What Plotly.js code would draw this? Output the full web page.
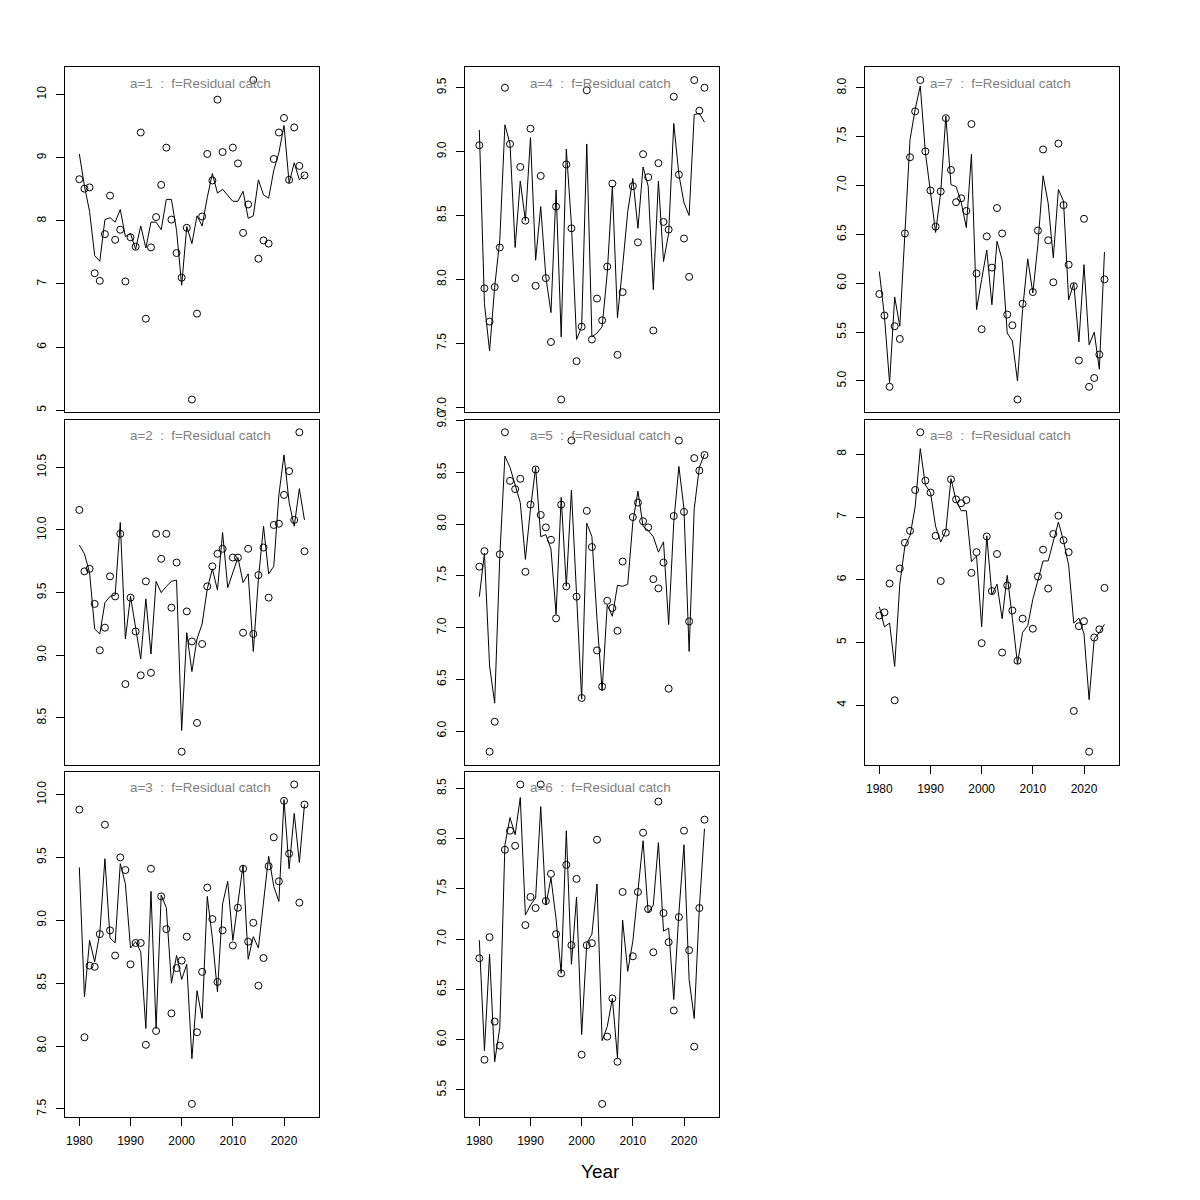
<!DOCTYPE html>
<html>
<head>
<meta charset="utf-8">
<script src="https://cdn.plot.ly/plotly-3.0.1.min.js"></script>
<style>html,body{margin:0;padding:0;background:#fff;}#chart{width:1200px;height:1200px;}</style>
</head>
<body>
<div id="chart"></div>
<script>
// ---------------- data ----------------
const years = [1980,1981,1982,1983,1984,1985,1986,1987,1988,1989,
               1990,1991,1992,1993,1994,1995,1996,1997,1998,1999,
               2000,2001,2002,2003,2004,2005,2006,2007,2008,2009,
               2010,2011,2012,2013,2014,2015,2016,2017,2018,2019,
               2020,2021,2022,2023,2024];
const xTicks = [1980,1990,2000,2010,2020];

const panelLabels = ["a=1  :  f=Residual catch","a=2  :  f=Residual catch","a=3  :  f=Residual catch",
                     "a=4  :  f=Residual catch","a=5  :  f=Residual catch","a=6  :  f=Residual catch",
                     "a=7  :  f=Residual catch","a=8  :  f=Residual catch"];

// observed (circles)
const obs1 = [8.66,8.51,8.53,7.17,7.05,7.79,8.40,7.70,7.86,7.04, 7.74,7.59,9.40,6.45,7.58,8.06,8.57,9.16,8.02,7.49,
              7.10,7.89,5.17,6.53,8.07,9.06,8.64,9.92,9.09,null, 9.16,8.91,7.81,8.26,10.23,7.40,7.69,7.64,8.98,9.40,
              9.63,8.65,9.48,8.87,8.72];
const obs2 = [10.16,9.67,9.69,9.41,9.04,9.22,9.63,9.47,9.97,8.77, 9.46,9.19,8.84,9.59,8.86,9.97,9.77,9.97,9.38,9.74,
              8.23,9.35,9.11,8.46,9.09,9.55,9.71,9.81,9.85,null, 9.78,9.78,9.18,9.85,9.17,9.64,9.86,9.46,10.04,10.05,
              10.28,10.47,10.08,10.78,9.83];
const obs3 = [9.88,8.07,8.64,8.63,8.89,9.76,8.92,8.72,9.50,9.40, 8.65,8.82,8.82,8.01,9.41,8.12,9.19,8.93,8.26,8.62,
              8.68,8.87,7.54,8.11,8.59,9.26,9.01,8.51,8.92,null, 8.80,9.10,9.41,8.83,8.98,8.48,8.70,9.43,9.66,9.31,
              9.95,9.53,10.08,9.14,9.92];
const obs4 = [9.05,7.93,7.67,7.94,8.25,9.50,9.06,8.01,8.88,8.46, 9.18,7.95,8.81,8.01,7.51,8.57,7.06,8.90,8.40,7.36,
              7.63,9.48,7.53,7.85,7.68,8.10,8.75,7.41,7.90,null, 8.73,8.29,8.98,8.80,7.60,8.91,8.45,8.39,9.43,8.82,
              8.32,8.02,9.56,9.32,9.50];
const obs5 = [7.59,7.74,5.80,6.09,7.71,8.89,8.42,8.34,8.44,7.54, 8.19,8.53,8.09,7.97,7.85,7.09,8.19,7.40,8.81,7.30,
              6.32,8.13,7.78,6.78,6.43,7.26,7.19,6.97,7.64,null, 8.07,8.21,8.03,7.97,7.47,7.38,7.63,6.41,8.08,8.81,
              8.12,7.06,8.64,8.52,8.67];
const obs6 = [6.81,5.80,7.02,6.18,5.94,7.89,8.08,7.93,8.54,7.14, 7.42,7.31,8.54,7.38,7.65,7.05,6.66,7.74,6.94,7.60,
              5.85,6.94,6.96,7.99,5.36,6.03,6.41,5.78,7.47,null, 6.83,7.47,8.06,7.30,6.87,8.37,7.26,6.97,6.29,7.22,
              8.08,6.89,5.93,7.31,8.19];
const obs7 = [5.89,5.67,4.94,5.56,5.43,6.51,7.29,7.76,8.08,7.35, 6.95,6.58,6.94,7.69,7.16,6.83,6.87,6.74,7.63,6.10,
              5.53,6.48,6.16,6.77,6.51,5.68,5.57,4.81,5.79,null, 5.91,6.54,7.37,6.44,6.01,7.43,6.80,6.19,5.97,5.21,
              6.66,4.94,5.03,5.27,6.04];
const obs8 = [5.43,5.48,5.94,4.08,6.18,6.59,6.78,7.43,8.35,7.58, 7.39,6.70,5.98,6.75,7.60,7.28,7.22,7.27,6.11,6.44,
              4.99,6.69,5.82,6.41,4.84,5.91,5.51,4.71,5.38,null, 5.22,6.05,6.48,5.86,6.73,7.02,6.63,6.44,3.91,5.26,
              5.34,3.26,5.08,5.21,5.87];

// fitted (lines)
const fit1 = [9.06,8.55,8.15,7.45,7.36,8.02,8.05,7.98,8.18,7.75, 7.80,7.55,7.92,7.57,7.98,7.98,7.86,8.34,8.34,7.85,
              6.98,7.91,7.64,8.08,7.92,8.37,8.75,8.44,8.50,8.41, 8.31,8.31,8.47,8.04,8.08,8.65,8.41,8.36,8.80,9.08,
              9.51,8.60,8.92,8.65,8.73];
const fit2 = [9.88,9.81,9.66,9.21,9.17,9.42,9.47,9.48,10.06,9.13, 9.47,9.21,8.97,9.45,9.01,9.59,9.50,9.55,9.59,9.60,
              8.40,9.18,8.87,9.13,9.25,9.53,9.69,9.52,9.98,9.54, 9.66,9.78,9.58,9.65,9.03,9.61,10.03,9.65,9.71,10.28,
              10.60,10.22,10.03,10.33,10.08];
const fit3 = [9.42,8.39,8.84,8.67,8.90,9.49,8.86,8.82,9.45,9.29, 8.78,8.83,8.75,8.14,9.23,8.14,9.20,9.10,8.50,8.72,
              8.53,8.65,7.90,8.44,8.22,9.19,8.86,8.43,9.13,9.31, 8.84,9.16,9.44,8.69,8.87,8.78,9.14,9.51,9.27,9.15,
              9.96,9.41,9.85,9.46,9.92];
const fit4 = [9.17,7.81,7.44,7.94,8.31,9.21,9.06,8.25,8.77,8.46, 9.11,8.15,8.57,8.02,7.74,8.70,7.55,9.02,8.43,7.53,
              7.63,9.06,7.55,7.58,7.63,8.05,8.73,7.70,8.10,8.53, 8.79,8.40,8.88,8.73,7.92,8.77,8.14,8.36,9.22,8.82,
              8.60,8.50,9.29,9.30,9.23];
const fit5 = [7.30,7.72,6.63,6.27,7.69,8.66,8.55,8.39,8.21,7.66, 8.15,8.55,7.88,7.90,7.76,7.13,8.26,7.40,8.33,7.32,
              6.31,8.01,7.88,7.08,6.39,7.22,7.11,7.41,7.40,7.42, 8.02,8.32,7.98,7.94,7.88,7.73,7.83,7.03,8.02,8.56,
              8.15,6.77,8.15,8.55,8.68];
const fit6 = [6.99,5.89,6.85,5.78,6.12,7.94,8.21,8.04,8.41,7.24, 7.34,7.41,8.32,7.34,7.61,7.20,6.66,8.08,6.75,7.42,
              6.05,6.96,7.05,7.55,5.99,6.13,6.41,5.82,7.19,6.68, 6.98,7.48,7.98,7.26,7.34,7.96,7.08,7.11,6.40,7.26,
              7.94,6.60,6.21,7.31,8.10];
const fit7 = [6.12,5.66,4.98,5.86,5.56,6.51,7.47,7.78,8.02,7.34, 6.93,6.52,6.93,7.71,7.01,6.99,6.83,6.57,7.32,5.73,
              6.04,6.34,5.78,6.43,6.24,5.49,5.41,5.00,5.73,6.25, 5.90,6.40,7.10,6.82,6.26,6.96,6.84,5.83,6.00,5.40,
              6.19,5.37,5.50,5.12,6.32];
const fit8 = [5.57,5.25,5.31,4.62,5.93,6.54,6.70,7.16,8.09,7.51, 7.39,6.85,6.60,6.78,7.61,7.26,7.10,7.10,6.29,6.38,
              5.25,6.70,5.76,5.93,5.38,6.07,5.38,4.66,5.16,5.27, 5.69,6.01,6.30,6.30,6.62,6.92,6.62,6.23,5.31,5.39,
              5.14,4.09,5.06,5.16,5.29];

// y tick values per panel
const yTicks1 = [5,6,7,8,9,10];
const yTicks2 = [8.5,9.0,9.5,10.0,10.5];
const yTicks3 = [7.5,8.0,8.5,9.0,9.5,10.0];
const yTicks4 = [7.0,7.5,8.0,8.5,9.0,9.5];
const yTicks5 = [6.0,6.5,7.0,7.5,8.0,8.5,9.0];
const yTicks6 = [5.5,6.0,6.5,7.0,7.5,8.0,8.5];
const yTicks7 = [5.0,5.5,6.0,6.5,7.0,7.5,8.0];
const yTicks8 = [4,5,6,7,8];

// ---------------- layout ----------------
const W = 1200, H = 1200;
const colLeft = [64.8, 464.8, 864.8], panelW = 254.2;
const rowTop = [67.3, 419.5, 771.7], panelH = 345;
const xRange = [1977.16, 2026.84];
const FONT = "Liberation Sans, Arial, Helvetica, sans-serif";

const panels = [
  {obs: obs1, fit: fit1, yt: yTicks1, fmt: "d",   col: 0, row: 0, xlab: false},
  {obs: obs2, fit: fit2, yt: yTicks2, fmt: ".1f", col: 0, row: 1, xlab: false},
  {obs: obs3, fit: fit3, yt: yTicks3, fmt: ".1f", col: 0, row: 2, xlab: true},
  {obs: obs4, fit: fit4, yt: yTicks4, fmt: ".1f", col: 1, row: 0, xlab: false},
  {obs: obs5, fit: fit5, yt: yTicks5, fmt: ".1f", col: 1, row: 1, xlab: false},
  {obs: obs6, fit: fit6, yt: yTicks6, fmt: ".1f", col: 1, row: 2, xlab: true},
  {obs: obs7, fit: fit7, yt: yTicks7, fmt: ".1f", col: 2, row: 0, xlab: false},
  {obs: obs8, fit: fit8, yt: yTicks8, fmt: "d",   col: 2, row: 1, xlab: true}
];

const data = [];
const layout = {
  width: W, height: H,
  margin: {l: 0, r: 0, t: 0, b: 0},
  paper_bgcolor: "#fff", plot_bgcolor: "#fff",
  showlegend: false,
  font: {family: FONT, size: 12, color: "#000"},
  annotations: []
};

panels.forEach((p, i) => {
  const k = i + 1;
  const xa = "x" + (k === 1 ? "" : k), ya = "y" + (k === 1 ? "" : k);
  const xk = "xaxis" + (k === 1 ? "" : k), yk = "yaxis" + (k === 1 ? "" : k);
  const l = colLeft[p.col], t = rowTop[p.row];

  const vals = p.obs.concat(p.fit).filter(v => v !== null);
  const mn = Math.min(...vals), mx = Math.max(...vals);
  const ext = 0.04 * (mx - mn);

  data.push({x: years, y: p.fit, type: "scatter", mode: "lines", xaxis: xa, yaxis: ya,
             line: {color: "#000", width: 1}, hoverinfo: "skip"});
  data.push({x: years, y: p.obs, type: "scatter", mode: "markers", xaxis: xa, yaxis: ya,
             marker: {symbol: "circle-open", size: 7, color: "#000", line: {width: 1, color: "#000"}}});

  layout[xk] = {
    domain: [l / W, (l + panelW) / W], range: xRange, anchor: ya,
    showline: true, mirror: true, linecolor: "#000", linewidth: 1,
    showgrid: false, zeroline: false,
    tickvals: xTicks, ticks: p.xlab ? "outside" : "", ticklen: 8, tickcolor: "#000",
    showticklabels: p.xlab, ticklabelstandoff: 5,
    tickfont: {family: FONT, size: 12, color: "#000"}
  };
  layout[yk] = {
    domain: [1 - (t + panelH) / H, 1 - t / H], range: [mn - ext, mx + ext], anchor: xa,
    showline: true, mirror: true, linecolor: "#000", linewidth: 1,
    showgrid: false, zeroline: false,
    tickvals: p.yt, tickformat: p.fmt, ticks: "outside", ticklen: 8, tickcolor: "#000",
    tickangle: -90, ticklabelstandoff: 5,
    tickfont: {family: FONT, size: 12, color: "#000"}
  };
  layout.annotations.push({
    text: panelLabels[i], xref: "paper", yref: "paper",
    x: (l + 135.7) / W, y: 1 - (t + 16.2) / H, xanchor: "center", yanchor: "middle",
    showarrow: false, font: {family: FONT, size: 13.4, color: "#808080"}
  });
});

layout.annotations.push({
  text: "Year", xref: "paper", yref: "paper", x: 600 / W, y: 1 - 1171 / H,
  xanchor: "center", yanchor: "middle", showarrow: false,
  font: {family: FONT, size: 19, color: "#000"}
});

Plotly.newPlot("chart", data, layout, {staticPlot: true, displayModeBar: false});
</script>
</body>
</html>
